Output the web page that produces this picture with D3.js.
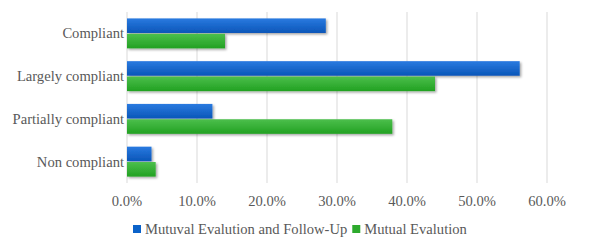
<!DOCTYPE html>
<html>
<head>
<meta charset="utf-8">
<script src="https://cdn.jsdelivr.net/npm/d3@7"></script>
<style>
  body { margin: 0; background: #fff; }
  text { font-family: "Liberation Serif", serif; fill: #595959; }
</style>
</head>
<body>
<svg id="chart" width="589" height="241"></svg>
<script>
// categories, top to bottom
const categories = ['Compliant', 'Largely compliant', 'Partially compliant', 'Non compliant'];
const seriesNames = ['Mutuval Evalution and Follow-Up', 'Mutual Evalution'];
const followUp = [28.4, 56.1, 12.2, 3.5];
const mutual = [14.0, 44.0, 37.9, 4.1];
const ticks = [0, 10, 20, 30, 40, 50, 60];
const colors = ['#0b62c9', '#2daa2d'];

const svg = d3.select('#chart');
const margin = {left: 127, right: 42, top: 12, bottom: 58};
const width = 589 - margin.left - margin.right;
const height = 241 - margin.top - margin.bottom;

const defs = svg.append('defs');
const f = defs.append('filter').attr('id', 'shadow').attr('x', '-5%').attr('y', '-30%').attr('width', '120%').attr('height', '180%');
f.append('feDropShadow').attr('dx', 1.5).attr('dy', 1.5).attr('stdDeviation', 1.2).attr('flood-color', '#000').attr('flood-opacity', 0.35);

const grads = [['#2a7ae0', '#0a56b8'], ['#4cbf4c', '#22a122']];
grads.forEach((g, i) => {
  const lg = defs.append('linearGradient').attr('id', 'g' + i).attr('x1', 0).attr('y1', 0).attr('x2', 0).attr('y2', 1);
  lg.append('stop').attr('offset', '0%').attr('stop-color', g[0]);
  lg.append('stop').attr('offset', '100%').attr('stop-color', g[1]);
});

const g = svg.append('g').attr('transform', `translate(${margin.left},${margin.top})`);

const x = d3.scaleLinear().domain([0, 60]).range([0, width]);
const y = d3.scaleBand().domain(categories).range([0, height]).paddingInner(0.3).paddingOuter(0.15);
const ySub = d3.scaleBand().domain([0, 1]).range([0, y.bandwidth()]).paddingInner(0.05);

// gridlines
g.selectAll('.grid').data(ticks).enter().append('line')
  .attr('x1', d => x(d)).attr('x2', d => x(d))
  .attr('y1', 0).attr('y2', height)
  .attr('stroke', '#d9d9d9').attr('stroke-width', 1);

const series = [followUp, mutual];
series.forEach((vals, si) => {
  g.selectAll('.bar' + si).data(vals).enter().append('rect')
    .attr('x', x(0))
    .attr('y', (d, i) => y(categories[i]) + ySub(si))
    .attr('width', d => x(d) - x(0))
    .attr('height', ySub.bandwidth())
    .attr('fill', `url(#g${si})`)
    .attr('filter', 'url(#shadow)');
});

// category labels
g.selectAll('.cat').data(categories).enter().append('text')
  .attr('x', -3)
  .attr('y', d => y(d) + y.bandwidth() / 2)
  .attr('dy', '0.35em')
  .attr('text-anchor', 'end')
  .attr('font-size', 14.6)
  .text(d => d);

// x tick labels
g.selectAll('.tick').data(ticks).enter().append('text')
  .attr('x', d => x(d))
  .attr('y', height + 18)
  .attr('dy', '0.35em')
  .attr('text-anchor', 'middle')
  .attr('font-size', 14.6)
  .text(d => d3.format('.1f')(d) + '%');

// legend
const leg = svg.append('g').attr('transform', 'translate(133,229)');
let lx = 0;
seriesNames.forEach((name, i) => {
  const item = leg.append('g').attr('transform', `translate(${lx},0)`);
  item.append('rect').attr('x', 0).attr('y', -4).attr('width', 8).attr('height', 8).attr('fill', colors[i]);
  const t = item.append('text').attr('x', 12).attr('y', 0).attr('dy', '0.35em').attr('font-size', 14.6).text(name);
  lx += 12 + t.node().getComputedTextLength() + 5;
});
</script>
</body>
</html>
